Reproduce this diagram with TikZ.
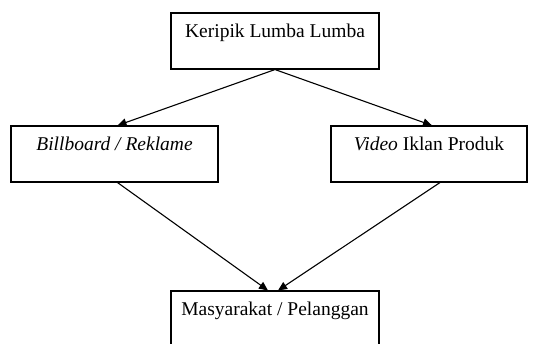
\documentclass[tikz,border=0pt]{standalone}
\usepackage{fontspec}
\setmainfont{Liberation Serif}
\usetikzlibrary{arrows.meta}

\begin{document}
\begin{tikzpicture}[x=1pt, y=-1pt,
	kotak/.style={draw, line width=1.1pt, inner sep=0pt, anchor=base,
		text height=24pt, text depth=32pt, font=\fontsize{19.5}{23}\selectfont},
	panah/.style={-{Triangle[length=9pt, width=8pt]}, line width=1.1pt}]
	\useasboundingbox (0,0) rectangle (533,343);

	\node[kotak, minimum width=208pt] (kripik) at (275,37) {Keripik Lumba Lumba};
	\node[kotak, minimum width=207pt] (billboard) at (114.5,150) {\textit{Billboard / Reklame}};
	\node[kotak, minimum width=196pt] (video) at (429,150) {\textit{Video} Iklan Produk};
	\node[kotak, minimum width=208pt] (masyarakat) at (275,315) {Masyarakat / Pelanggan};

	\draw (kripik.south) edge[panah] ([xshift=3pt]billboard.north)
	      (kripik.south) edge[panah] ([xshift=3pt]video.north)
	      ([xshift=3pt]billboard.south) edge[panah] ([xshift=-7pt]masyarakat.north)
	      ([xshift=11pt]video.south) edge[panah] ([xshift=3pt]masyarakat.north);
\end{tikzpicture}
\end{document}
